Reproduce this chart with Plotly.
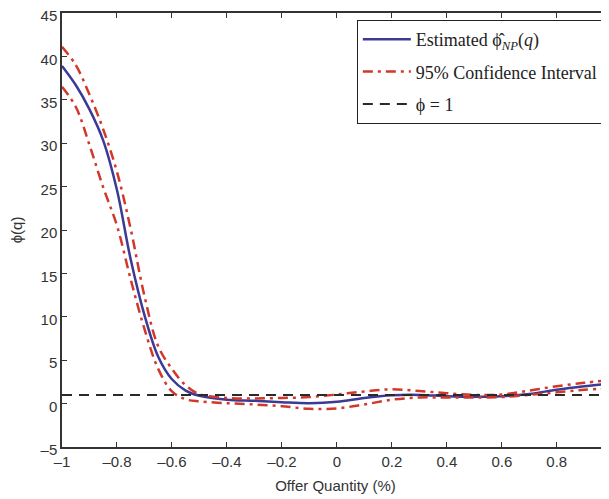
import plotly.graph_objects as go

# offer quantity grid (fraction)
q = [-1.0, -0.95, -0.9, -0.85, -0.8, -0.75, -0.7, -0.65, -0.6, -0.55, -0.5,
     -0.4, -0.3, -0.2, -0.1, 0.0, 0.1, 0.2, 0.3, 0.4, 0.5, 0.6, 0.7, 0.8, 0.9, 0.99]

phi_est = [38.9, 36.7, 33.9, 30.3, 24.6, 16.6, 10.2, 5.4, 2.8, 1.5, 0.9,
           0.45, 0.32, 0.15, 0.04, 0.2, 0.65, 0.95, 1.0, 0.85, 0.78, 0.85, 1.1, 1.6, 2.0, 2.3]

ci_upper = [41.1, 39.0, 35.6, 31.6, 26.7, 20.1, 12.4, 6.6, 4.0, 2.1, 1.1,
            0.65, 0.6, 0.65, 0.75, 1.05, 1.4, 1.65, 1.45, 1.2, 1.0, 1.05, 1.5, 2.0, 2.4, 2.7]

ci_lower = [36.5, 34.2, 29.8, 24.9, 20.5, 14.3, 8.6, 4.0, 1.4, 0.5, 0.25,
            0.05, -0.1, -0.3, -0.6, -0.55, -0.1, 0.45, 0.7, 0.7, 0.7, 0.75, 1.0, 1.3, 1.6, 1.75]

ref_x = [-1.0, 1.0]
ref_y = [1, 1]

x_ticks = [-1, -0.8, -0.6, -0.4, -0.2, 0, 0.2, 0.4, 0.6, 0.8]
x_labels = ["\u20131", "\u20130.8", "\u20130.6", "\u20130.4", "\u20130.2", "0", "0.2", "0.4", "0.6", "0.8"]
y_ticks = [-5, 0, 5, 10, 15, 20, 25, 30, 35, 40, 45]
y_labels = ["\u20135", "0", "5", "10", "15", "20", "25", "30", "35", "40", "45"]

blue = "#3b3a94"
red = "#d2382a"

fig = go.Figure()
fig.add_trace(go.Scatter(
    x=q, y=phi_est, mode="lines", line_shape="spline",
    line=dict(color=blue, width=2.5),
    name="Estimated \u03d5\u0302<sub><i>NP</i></sub>(<i>q</i>)"))
fig.add_trace(go.Scatter(
    x=q, y=ci_upper, mode="lines", line_shape="spline",
    line=dict(color=red, width=2.5, dash="10px,5px,3px,5px"),
    name="95% Confidence Interval", legendgroup="ci"))
fig.add_trace(go.Scatter(
    x=q, y=ci_lower, mode="lines", line_shape="spline",
    line=dict(color=red, width=2.5, dash="10px,5px,3px,5px"),
    name="95% Confidence Interval", legendgroup="ci", showlegend=False))
fig.add_trace(go.Scatter(
    x=ref_x, y=ref_y, mode="lines",
    line=dict(color="#2a2a2a", width=2, dash="10px,7px"),
    name="\u03d5 = 1"))

axis_common = dict(
    showgrid=False, zeroline=False, showline=True, linecolor="#333",
    linewidth=1.5, mirror="ticks", ticks="inside", ticklen=5, automargin=False,
    ticklabeloverflow="allow",
    tickcolor="#333", tickfont=dict(family="Liberation Sans", size=15, color="#333"))

# page body has an 8px margin, so the figure is a bit smaller and shifted
fig.update_layout(
    width=601, height=491,
    plot_bgcolor="white", paper_bgcolor="white",
    margin=dict(l=54, r=0, t=5, b=52),
    xaxis=dict(range=[-1, 0.99], tickvals=x_ticks, ticktext=x_labels,
               title=dict(text="Offer Quantity (%)", standoff=12,
                          font=dict(family="Liberation Sans", size=15, color="#333")),
               **axis_common),
    yaxis=dict(range=[-5, 45], tickvals=y_ticks, ticktext=y_labels,
               ticklabelshift=3,
               title=dict(text="\u03d5(q)", standoff=17,
                          font=dict(family="Liberation Sans", size=15, color="#333")),
               **axis_common),
    legend=dict(x=0.539, y=0.984, xanchor="left", yanchor="top",
                bgcolor="white", bordercolor="#222", borderwidth=1,
                font=dict(family="Liberation Serif", size=18, color="#222"),
                itemwidth=48, entrywidth=200, tracegroupgap=6),
    showlegend=True,
)

fig.write_html("out.html")
